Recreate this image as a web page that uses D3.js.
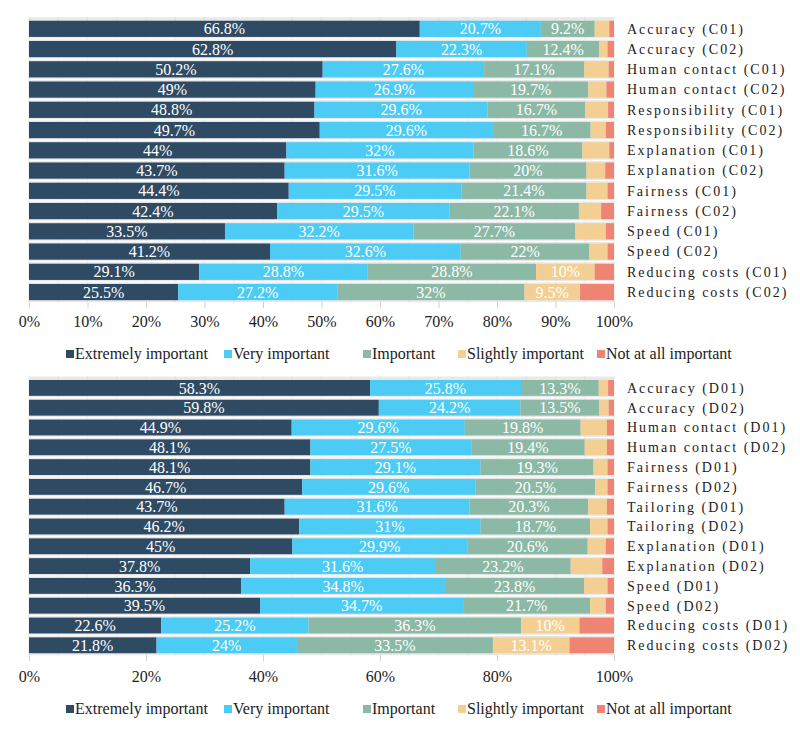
<!DOCTYPE html>
<html>
<head>
<meta charset="utf-8">
<script src="https://cdn.jsdelivr.net/npm/d3@7"></script>
<style>
  html, body { margin: 0; padding: 0; background: #ffffff; }
  svg { display: block; }
</style>
</head>
<body>
<svg id="chart" width="800" height="732"></svg>
<script>
// ---------- DATA ----------
const seriesNames = ["Extremely important", "Very important", "Important", "Slightly important", "Not at all important"];

const categoriesC = ["Accuracy (C01)", "Accuracy (C02)", "Human contact (C01)", "Human contact (C02)",
  "Responsibility (C01)", "Responsibility (C02)", "Explanation (C01)", "Explanation (C02)",
  "Fairness (C01)", "Fairness (C02)", "Speed (C01)", "Speed (C02)", "Reducing costs (C01)", "Reducing costs (C02)"];
const extremelyC = [66.8, 62.8, 50.2, 49, 48.8, 49.7, 44, 43.7, 44.4, 42.4, 33.5, 41.2, 29.1, 25.5];
const veryC      = [20.7, 22.3, 27.6, 26.9, 29.6, 29.6, 32, 31.6, 29.5, 29.5, 32.2, 32.6, 28.8, 27.2];
const importantC = [9.2, 12.4, 17.1, 19.7, 16.7, 16.7, 18.6, 20, 21.4, 22.1, 27.7, 22, 28.8, 32];
const slightlyC  = [2.5, 1.4, 4.2, 3.1, 3.9, 2.6, 4.6, 3.2, 3.6, 3.8, 5.2, 3.1, 10, 9.5];
const notC       = [0.8, 1.1, 0.9, 1.3, 1.0, 1.4, 0.8, 1.5, 1.1, 2.2, 1.4, 1.1, 3.3, 5.8];

const categoriesD = ["Accuracy (D01)", "Accuracy (D02)", "Human contact (D01)", "Human contact (D02)",
  "Fairness (D01)", "Fairness (D02)", "Tailoring (D01)", "Tailoring (D02)",
  "Explanation (D01)", "Explanation (D02)", "Speed (D01)", "Speed (D02)", "Reducing costs (D01)", "Reducing costs (D02)"];
const extremelyD = [58.3, 59.8, 44.9, 48.1, 48.1, 46.7, 43.7, 46.2, 45, 37.8, 36.3, 39.5, 22.6, 21.8];
const veryD      = [25.8, 24.2, 29.6, 27.5, 29.1, 29.6, 31.6, 31, 29.9, 31.6, 34.8, 34.7, 25.2, 24];
const importantD = [13.3, 13.5, 19.8, 19.4, 19.3, 20.5, 20.3, 18.7, 20.6, 23.2, 23.8, 21.7, 36.3, 33.5];
const slightlyD  = [1.6, 1.6, 4.5, 3.8, 2.4, 2.1, 3.2, 3.0, 3.1, 5.4, 4.0, 2.7, 10, 13.1];
const notD       = [1.0, 0.9, 1.2, 1.2, 1.1, 1.1, 1.2, 1.1, 1.4, 2.0, 1.1, 1.4, 5.9, 7.6];

const ticksC = [0, 10, 20, 30, 40, 50, 60, 70, 80, 90, 100];
const ticksD = [0, 20, 40, 60, 80, 100];

// ---------- STYLE ----------
const colors = ["#2f4a63", "#4ccbf5", "#8cb9a6", "#f4cf94", "#ef8473"];
const FONT = '"Liberation Serif"';

const svg = d3.select("#chart");

function buildRows(cats, arrs) {
  return cats.map((c, i) => {
    const row = { cat: c };
    seriesNames.forEach((s, j) => row[s] = arrs[j][i]);
    return row;
  });
}

function drawPanel(opts) {
  const { cats, arrs, ticks, y0, y1, axisY, legendY } = opts;
  const rows = buildRows(cats, arrs);
  const x = d3.scaleLinear().domain([0, 100]).range([29, 614]);
  const y = d3.scaleBand().domain(cats).range([y0, y1]).paddingInner(0.2).paddingOuter(0.1);
  const g = svg.append("g");

  // background
  g.append("rect").attr("x", x(0)).attr("y", y0 - 1.5).attr("width", x(100) - x(0)).attr("height", y1 - y0 + 1.5)
    .attr("fill", "#e9e9e9");
  // faint vertical gridlines
  g.selectAll(".vg").data(d3.range(0, 101, 5)).join("line")
    .attr("x1", d => x(d)).attr("x2", d => x(d))
    .attr("y1", y0 - 1.5).attr("y2", y1)
    .attr("stroke", "#dcdcdc").attr("stroke-width", 0.8);
  // white separators between rows
  g.selectAll(".hs").data(cats.slice(1)).join("line")
    .attr("x1", x(0)).attr("x2", x(100))
    .attr("y1", d => y(d) - y.step() * 0.1).attr("y2", d => y(d) - y.step() * 0.1)
    .attr("stroke", "#ffffff").attr("stroke-width", 1.2);

  const stacked = d3.stack().keys(seriesNames)(rows);
  const layers = g.selectAll(".layer").data(stacked).join("g")
    .attr("fill", (d, i) => colors[i]);
  layers.selectAll("rect").data(d => d).join("rect")
    .attr("x", d => x(d[0]))
    .attr("y", d => y(d.data.cat))
    .attr("width", d => x(d[1]) - x(d[0]))
    .attr("height", y.bandwidth());

  // value labels
  stacked.forEach(layer => {
    g.append("g").selectAll("text").data(layer.filter(d => d[1] - d[0] >= 8)).join("text")
      .attr("x", d => (x(d[0]) + x(d[1])) / 2)
      .attr("y", d => y(d.data.cat) + y.bandwidth() / 2)
      .attr("dy", "0.35em")
      .attr("text-anchor", "middle")
      .attr("fill", "#ffffff")
      .style("font-family", FONT)
      .style("font-size", "16px")
      .text(d => d3.format(".1~f")(d[1] - d[0]) + "%");
  });

  // category labels
  g.append("g").selectAll("text").data(cats).join("text")
    .attr("x", x(100) + 13)
    .attr("y", d => y(d) + y.bandwidth() / 2)
    .attr("dy", "0.35em")
    .style("font-family", FONT)
    .style("font-size", "14px")
    .style("letter-spacing", "2px")
    .attr("fill", "#222222")
    .text(d => d);

  // x axis
  const axis = d3.axisBottom(x).tickValues(ticks).tickFormat(d => d + "%").tickSize(6).tickPadding(8);
  const ax = g.append("g").attr("transform", `translate(0,${y1})`).call(axis);
  ax.select(".domain").remove();
  ax.selectAll(".tick line").attr("stroke", "#d0d0d0");
  ax.selectAll(".tick text")
    .style("font-family", FONT).style("font-size", "16px").attr("fill", "#222222")
    .attr("y", axisY - y1).attr("dy", "0.35em");

  // legend
  const legendX = [66, 224, 363, 458, 597];
  const lg = g.append("g");
  seriesNames.forEach((s, i) => {
    lg.append("rect").attr("x", legendX[i]).attr("y", legendY - 3).attr("width", 8).attr("height", 8)
      .attr("fill", colors[i]);
    lg.append("text").attr("x", legendX[i] + 9).attr("y", legendY).attr("dy", "0.35em")
      .style("font-family", FONT).style("font-size", "16px").attr("fill", "#222222").text(s);
  });
}

drawPanel({
  cats: categoriesC,
  arrs: [extremelyC, veryC, importantC, slightlyC, notC],
  ticks: ticksC, y0: 18.7, y1: 302.2, axisY: 321, legendY: 353
});
drawPanel({
  cats: categoriesD,
  arrs: [extremelyD, veryD, importantD, slightlyD, notD],
  ticks: ticksD, y0: 378, y1: 655.2, axisY: 676, legendY: 708
});
</script>
</body>
</html>
